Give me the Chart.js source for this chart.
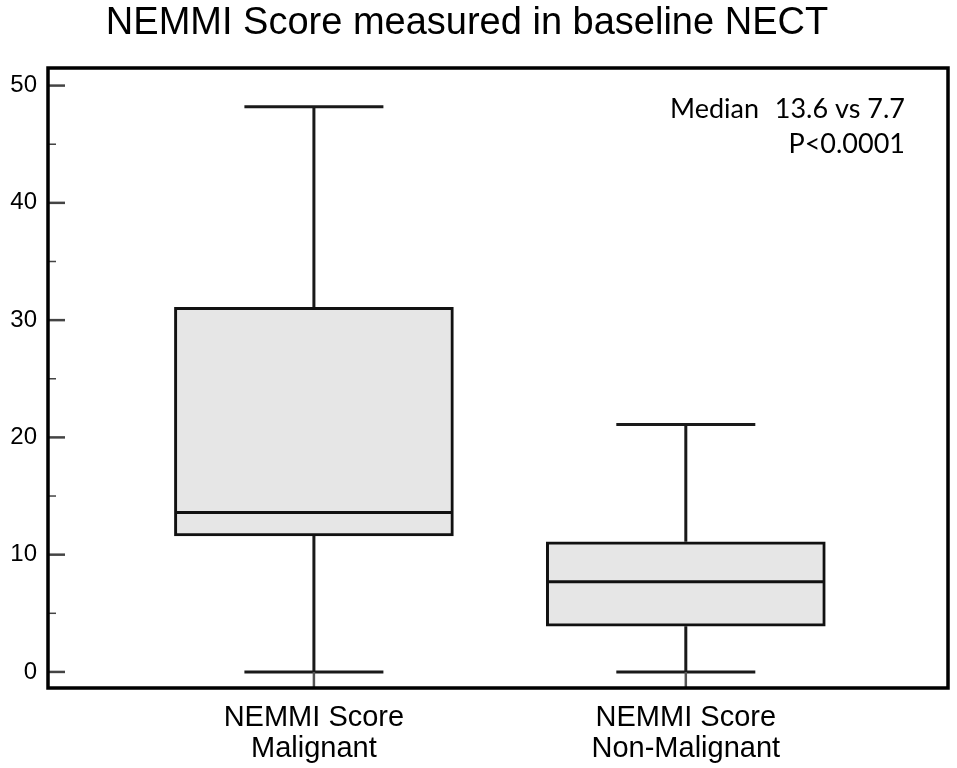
<!DOCTYPE html>
<html>
<head>
<meta charset="utf-8">
<script src="https://cdn.jsdelivr.net/npm/chart.js@4"></script>
<style>
  body { margin: 0; background: #fff; }
  #wrap { width: 957px; height: 768px; }
</style>
</head>
<body>
<div id="wrap"><canvas id="myChart" width="957" height="768"></canvas></div>
<script>
// data
const titleText = 'NEMMI Score measured in baseline NECT';
const categories = [['NEMMI Score', 'Malignant'], ['NEMMI Score', 'Non-Malignant']];
const positions = [1, 2];
const mins = [0, 0];
const q1s = [11.6, 3.9];
const medians = [13.6, 7.7];
const q3s = [31.1, 11.1];
const maxs = [48.2, 21.1];
const yTicks = [0, 10, 20, 30, 40, 50];
const yMinorTicks = [5, 15, 25, 35, 45];
const noteLines = ['Median', '13.6 vs 7.7', 'P<0.0001'];

const boxData = positions.map((p, i) => ({ x: p, y: [q1s[i], q3s[i]] }));

// whiskers, median, frame, inner ticks, title and note
const boxPlotExtras = {
  id: 'boxPlotExtras',
  afterDatasetsDraw(chart) {
    const ctx = chart.ctx;
    const xs = chart.scales.x;
    const ys = chart.scales.y;
    const area = chart.chartArea;
    ctx.save();

    positions.forEach((p, i) => {
      const cx = xs.getPixelForValue(p);
      const capHalf = 69.5;
      // whiskers
      ctx.strokeStyle = '#1a1a1a';
      ctx.lineWidth = 3;
      ctx.beginPath();
      ctx.moveTo(cx, ys.getPixelForValue(q3s[i]));
      ctx.lineTo(cx, ys.getPixelForValue(maxs[i]));
      ctx.moveTo(cx, ys.getPixelForValue(q1s[i]));
      ctx.lineTo(cx, ys.getPixelForValue(mins[i]));
      ctx.stroke();
      // caps
      ctx.beginPath();
      ctx.moveTo(cx - capHalf, ys.getPixelForValue(maxs[i]));
      ctx.lineTo(cx + capHalf, ys.getPixelForValue(maxs[i]));
      ctx.moveTo(cx - capHalf, ys.getPixelForValue(mins[i]));
      ctx.lineTo(cx + capHalf, ys.getPixelForValue(mins[i]));
      ctx.stroke();
      // median
      ctx.strokeStyle = '#111';
      ctx.beginPath();
      ctx.moveTo(cx - 138, ys.getPixelForValue(medians[i]));
      ctx.lineTo(cx + 138, ys.getPixelForValue(medians[i]));
      ctx.stroke();
      // x tick inside the frame
      ctx.strokeStyle = '#555';
      ctx.lineWidth = 2.5;
      ctx.beginPath();
      ctx.moveTo(cx, area.bottom);
      ctx.lineTo(cx, area.bottom - 16);
      ctx.stroke();
    });

    // y ticks inside the frame
    ctx.strokeStyle = '#444';
    ctx.lineWidth = 2.5;
    yTicks.forEach(v => {
      const y = ys.getPixelForValue(v);
      ctx.beginPath();
      ctx.moveTo(area.left, y);
      ctx.lineTo(area.left + 17, y);
      ctx.stroke();
    });
    ctx.lineWidth = 1.5;
    yMinorTicks.forEach(v => {
      const y = ys.getPixelForValue(v);
      ctx.beginPath();
      ctx.moveTo(area.left, y);
      ctx.lineTo(area.left + 8, y);
      ctx.stroke();
    });

    // frame
    ctx.strokeStyle = '#000';
    ctx.lineWidth = 3.5;
    ctx.strokeRect(area.left, area.top, area.right - area.left, area.bottom - area.top);

    // title
    ctx.fillStyle = '#000';
    ctx.font = '38px "Liberation Sans", Arial, sans-serif';
    ctx.textAlign = 'center';
    ctx.textBaseline = 'alphabetic';
    ctx.fillText(titleText, 467, 34);

    // note
    ctx.font = '27px Lato, "Open Sans", sans-serif';
    ctx.textBaseline = 'middle';
    ctx.textAlign = 'left';
    ctx.fillText(noteLines[0], 670, ys.getPixelForValue(48));
    ctx.textAlign = 'right';
    ctx.fillText(noteLines[1], 905, ys.getPixelForValue(48));
    ctx.fillText(noteLines[2], 905, ys.getPixelForValue(45));
    ctx.restore();
  }
};

function makeChart() {
  const ctx = document.getElementById('myChart');
  const configuration = {
    type: 'bar',
    data: {
      datasets: [{
        data: boxData,
        backgroundColor: '#e6e6e6',
        borderColor: '#111',
        borderWidth: 3,
        borderSkipped: false,
        barThickness: 279
      }]
    },
    options: {
      responsive: false,
      animation: false,
      events: [],
      layout: {
        padding: { left: 10, right: 9, top: 68, bottom: 4 }
      },
      scales: {
        x: {
          type: 'linear',
          offset: false,
          min: 0.285,
          max: 2.705,
          afterBuildTicks: (scale) => { scale.ticks = positions.map(v => ({ value: v })); },
          afterFit: (scale) => { scale.height = 76; },
          grid: { display: false, drawTicks: false },
          border: { display: false },
          ticks: {
            color: '#000',
            padding: 14,
            maxRotation: 0,
            font: { family: '"Liberation Sans", Arial, sans-serif', size: 29, lineHeight: 1.07 },
            callback: (v) => categories[positions.indexOf(v)]
          }
        },
        y: {
          min: -1.37,
          max: 51.5,
          afterBuildTicks: (scale) => { scale.ticks = yTicks.map(v => ({ value: v })); },
          afterFit: (scale) => { scale.width = 38; },
          grid: { display: false, drawTicks: false },
          border: { display: false },
          ticks: {
            color: '#000',
            padding: 11,
            font: { family: '"Liberation Sans", Arial, sans-serif', size: 24 }
          }
        }
      },
      plugins: {
        legend: { display: false },
        tooltip: { enabled: false },
        title: { display: false }
      }
    },
    plugins: [boxPlotExtras]
  };
  new Chart(ctx, configuration);
}

window.onload = function () {
  makeChart();
};
</script>
</body>
</html>
